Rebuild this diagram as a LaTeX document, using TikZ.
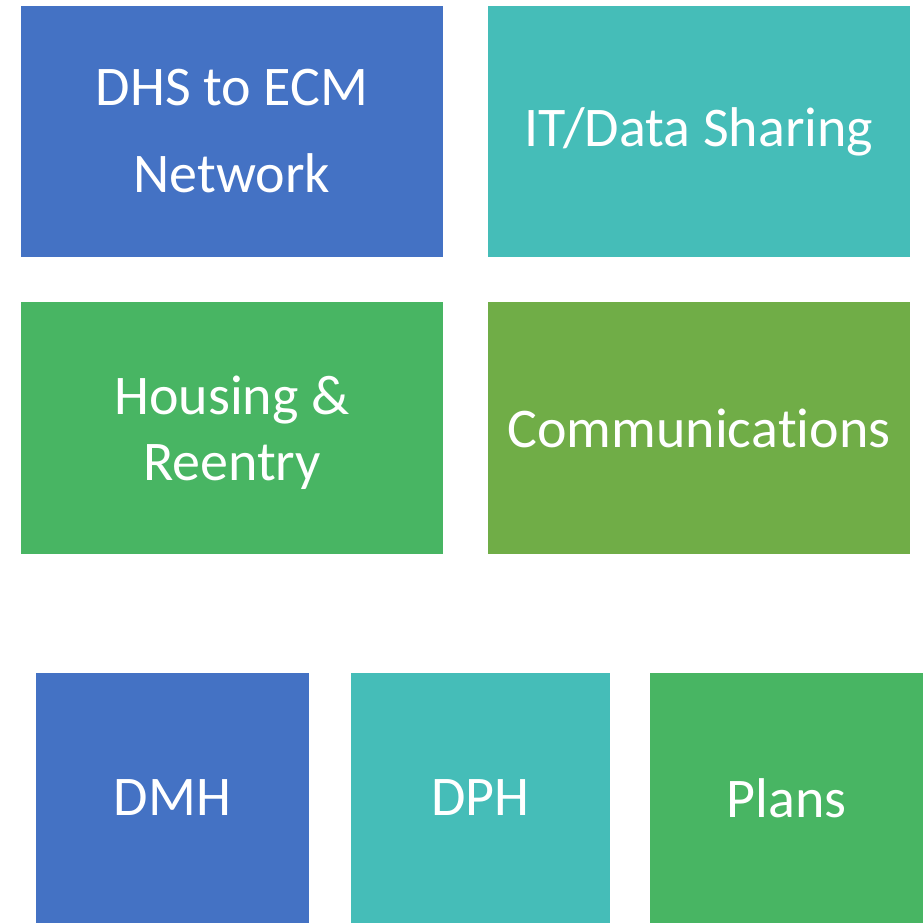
\documentclass[tikz,border=0pt]{standalone}
\usepackage{fontspec}
\setmainfont{Carlito}[Ligatures={NoCommon,NoContextual}]
\definecolor{cblue}{HTML}{4472C4}
\definecolor{cteal}{HTML}{45BDB8}
\definecolor{cgreen}{HTML}{48B563}
\definecolor{colive}{HTML}{70AD47}
\begin{document}
\begin{tikzpicture}[x=1pt,y=1pt,
  box/.style={rectangle, inner sep=0pt, text=white, align=center,
    font={\fontsize{56}{87}\selectfont}}]
\useasboundingbox (0,0) rectangle (924,923);
\node[box, fill=cblue, minimum width=422pt, minimum height=251pt] (dhs) at (232,791.5) {DHS to ECM\\Network};
\node[box, fill=cteal, minimum width=422pt, minimum height=251pt] (it) at (699,791.5) {IT/Data Sharing};
\node[box, fill=cgreen, minimum width=422pt, minimum height=252pt] (hous) at (232,495) {};
\node[box, font={\fontsize{56}{66}\selectfont}] (houstext) at (232,490) {Housing \&\\Reentry};
\node[box, fill=colive, minimum width=422pt, minimum height=252pt] (comm) at (699,495) {Communica\kern0pt tions};
\node[box, fill=cblue, minimum width=273pt, minimum height=250pt] (dmh) at (172.5,125) {DMH};
\node[box, fill=cteal, minimum width=259pt, minimum height=250pt] (dph) at (480.5,125) {DPH};
\node[box, fill=cgreen, minimum width=273pt, minimum height=250pt] (plans) at (786.5,125) {Plans};
\end{tikzpicture}
\end{document}
